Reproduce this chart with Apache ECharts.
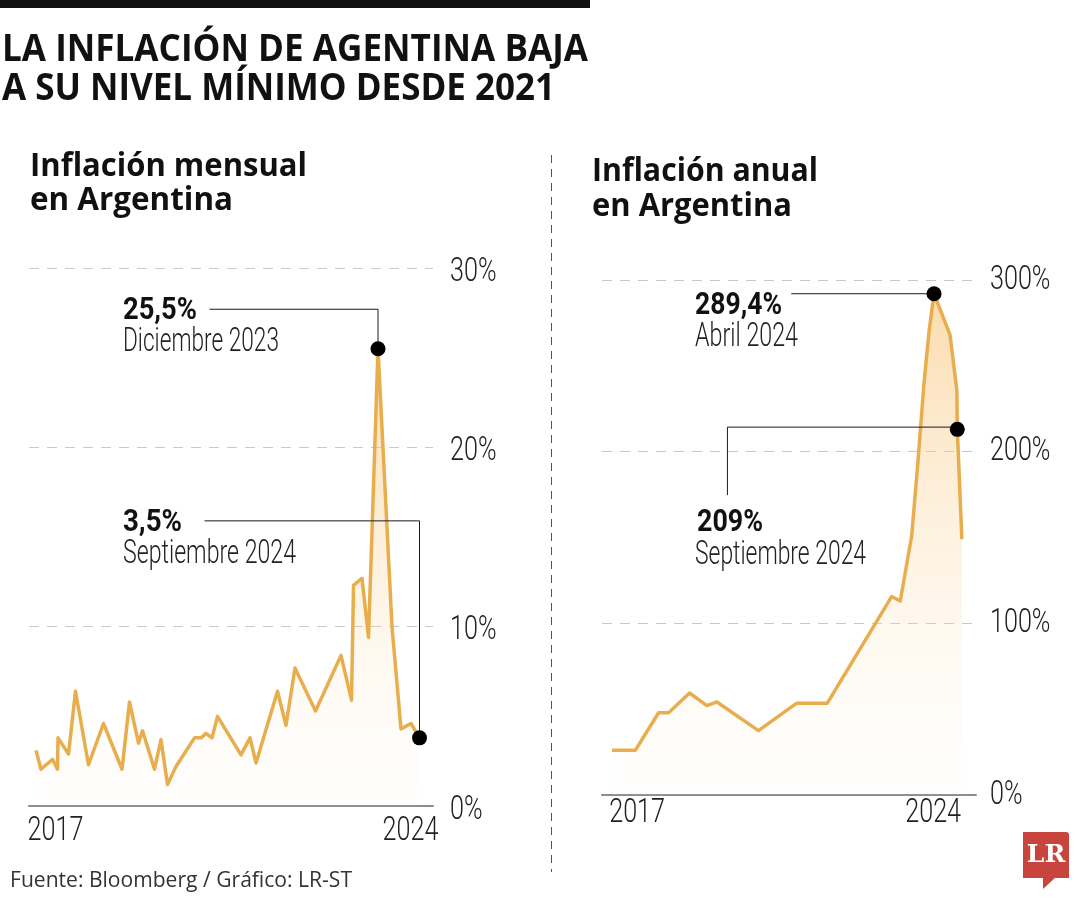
<!DOCTYPE html>
<html><head><meta charset="utf-8">
<script src="https://cdn.jsdelivr.net/npm/echarts@6/dist/echarts.min.js"></script>
<style>html,body{margin:0;padding:0;background:#fff}#c{width:1080px;height:900px}</style>
</head><body><div id="c"></div>
<script>
// ---------- DATA ----------
// Monthly inflation (x = decimal year)
const monthlyYears = [2017.00, 2017.10, 2017.33, 2017.43, 2017.44, 2017.65, 2017.79, 2018.05, 2018.35, 2018.72, 2018.87,
  2019.05, 2019.13, 2019.37, 2019.50, 2019.63, 2019.80, 2020.17, 2020.30, 2020.40, 2020.52, 2020.63,
  2021.10, 2021.28, 2021.40, 2021.83, 2022.00, 2022.18, 2022.59, 2023.10, 2023.31, 2023.35, 2023.52,
  2023.65, 2023.84, 2024.12, 2024.30, 2024.50, 2024.67];
const monthlyValues = [3.1, 2.05, 2.6, 2.05, 3.8, 2.9, 6.4, 2.3, 4.6, 2.05, 5.8,
  3.5, 4.2, 2.05, 3.7, 1.2, 2.2, 3.8, 3.8, 4.05, 3.8, 5.0,
  2.85, 3.8, 2.4, 6.4, 4.5, 7.7, 5.3, 8.4, 5.9, 12.3, 12.7,
  9.4, 25.5, 10.0, 4.3, 4.6, 3.8];
// Annual inflation
const annualYears = [2017.00, 2017.51, 2018.02, 2018.24, 2018.70, 2019.08, 2019.30, 2020.21, 2021.05, 2021.72,
  2023.13, 2023.32, 2023.57, 2023.71, 2023.84, 2023.95, 2024.06, 2024.41, 2024.56, 2024.57, 2024.67];
const annualValues = [26, 26, 47.9, 47.9, 59.4, 52.1, 54.2, 37.5, 53.5, 53.5,
  115.6, 113, 151, 195, 240, 270, 292, 268, 236, 213, 149];

// Tick labels
const monthlyYTicks = [0, 10, 20, 30];
const annualYTicks = [0, 100, 200, 300];
const xTickLabels = ['2017', '2024'];
const monthlyXLabelAt = [2017.39, 2024.49];
const annualXLabelAt = [2017.55, 2024.04];

// Highlighted points and their notes
const monthlyHighlights = [[2023.84, 25.5], [2024.67, 3.8]];
const annualHighlights = [[2024.06, 292], [2024.57, 213]];
const monthlyNotes = [['25,5%', 'Diciembre 2023'], ['3,5%', 'Septiembre 2024']];
const annualNotes = [['289,4%', 'Abril 2024'], ['209%', 'Septiembre 2024']];
// leader lines (data coordinates)
const monthlyLeaders = [
  [[2020.47, 27.7], [2023.84, 27.7], [2023.84, 25.5]],
  [[2020.37, 15.9], [2024.67, 15.9], [2024.67, 3.8]]
];
const annualLeaders = [
  [[2020.93, 292], [2024.06, 292]],
  [[2019.53, 174.7], [2019.53, 214.3], [2024.57, 214.3]]
];

// ---------- STYLE ----------
const BOLD = "'Open Sans','Noto Sans',sans-serif";
const COND = "Roboto,'Noto Sans',sans-serif";
const LINE = '#E8AE4E';
const measureCtx = document.createElement('canvas').getContext('2d');
function fitText(text, font, x, y, width, fill) {
  measureCtx.font = font;
  const w = measureCtx.measureText(text).width;
  return { type: 'text', x: x, y: y, scaleX: width / w, silent: true, z: 10,
    style: { text: text, font: font, fill: fill || '#111', align: 'left', verticalAlign: 'middle' } };
}
function scaledText(text, font, x, y, sx, align, fill) {
  return { type: 'text', x: x, y: y, scaleX: sx, silent: true, z: 10,
    style: { text: text, font: font, fill: fill || '#222', align: align, verticalAlign: 'middle' } };
}
function area() {
  return new echarts.graphic.LinearGradient(0, 0, 0, 1, [
    { offset: 0, color: 'rgba(247,186,95,0.72)' },
    { offset: 0.5, color: 'rgba(250,210,150,0.40)' },
    { offset: 1, color: 'rgba(255,246,232,0.10)' }
  ]);
}
function pairs(xs, ys) { return xs.map((x, i) => [x, ys[i]]); }

const chart = echarts.init(document.getElementById('c'), null, { renderer: 'canvas' });

function xAxis(grid, min, max) {
  return {
    type: 'value', gridIndex: grid, min: min, max: max,
    axisLine: { show: true, onZero: false, lineStyle: { color: '#8c8c8c', width: 2 } },
    axisTick: { show: false }, splitLine: { show: false }, axisLabel: { show: false }
  };
}
function yAxis(grid, ticks) {
  return {
    type: 'value', gridIndex: grid, position: 'right',
    min: ticks[0], max: ticks[ticks.length - 1], interval: ticks[1] - ticks[0],
    axisLine: { show: false }, axisTick: { show: false }, axisLabel: { show: false },
    splitLine: { show: true, lineStyle: { color: '#c8c8c8', width: 1, type: [10, 8] } }
  };
}
function leaderSeries(list, xi) {
  return list.map(d => ({
    type: 'line', xAxisIndex: xi, yAxisIndex: xi, data: d, symbol: 'none', silent: true, z: 4,
    lineStyle: { color: '#1a1a1a', width: 1 }
  }));
}

const option = {
  backgroundColor: '#fff',
  animation: false,
  grid: [
    { left: 29, top: 268, width: 404, height: 538 },
    { left: 602, top: 280, width: 374, height: 515 }
  ],
  xAxis: [xAxis(0, 2016.86, 2024.94), xAxis(1, 2016.78, 2024.98)],
  yAxis: [yAxis(0, monthlyYTicks), yAxis(1, annualYTicks)],
  series: [
    { type: 'line', xAxisIndex: 0, yAxisIndex: 0, data: pairs(monthlyYears, monthlyValues), symbol: 'none',
      lineStyle: { color: LINE, width: 3.5, join: 'round' }, areaStyle: { color: area(), origin: 'start' }, z: 2 },
    { type: 'line', xAxisIndex: 1, yAxisIndex: 1, data: pairs(annualYears, annualValues), symbol: 'none',
      lineStyle: { color: LINE, width: 3.5, join: 'round' }, areaStyle: { color: area(), origin: 'start' }, z: 2 },
    ...leaderSeries(monthlyLeaders, 0),
    ...leaderSeries(annualLeaders, 1),
    { type: 'scatter', xAxisIndex: 0, yAxisIndex: 0, data: monthlyHighlights, symbolSize: 15,
      itemStyle: { color: '#000', opacity: 1 }, z: 5, silent: true },
    { type: 'scatter', xAxisIndex: 1, yAxisIndex: 1, data: annualHighlights, symbolSize: 15,
      itemStyle: { color: '#000', opacity: 1 }, z: 5, silent: true }
  ]
};
chart.setOption(option);

// ---------- TEXT / DECORATION (positions from the library's scales) ----------
const TICKFONT = '300 34px ' + COND;
const TICKSX = 0.74;
const graphics = [
  { type: 'rect', shape: { x: 0, y: 0, width: 590, height: 8 }, style: { fill: '#111' }, silent: true },
  fitText('LA INFLACIÓN DE AGENTINA BAJA', 'bold 38px ' + BOLD, 2, 50, 586),
  fitText('A SU NIVEL MÍNIMO DESDE 2021', 'bold 38px ' + BOLD, 2, 89, 553),
  fitText('Inflación mensual', 'bold 33px ' + BOLD, 30, 167, 277),
  fitText('en Argentina', 'bold 33px ' + BOLD, 30, 201, 203),
  fitText('Inflación anual', 'bold 33px ' + BOLD, 592, 172, 226),
  fitText('en Argentina', 'bold 33px ' + BOLD, 592, 207, 200),
  // notes
  fitText(monthlyNotes[0][0], 'bold 31px ' + COND, 123, 311, 74),
  fitText(monthlyNotes[0][1], '300 33px ' + COND, 123, 343, 156, '#222'),
  fitText(monthlyNotes[1][0], 'bold 31px ' + COND, 123, 523, 59),
  fitText(monthlyNotes[1][1], '300 33px ' + COND, 123, 555, 173, '#222'),
  fitText(annualNotes[0][0], 'bold 31px ' + COND, 695, 306, 87),
  fitText(annualNotes[0][1], '300 33px ' + COND, 695, 338, 103, '#222'),
  fitText(annualNotes[1][0], 'bold 31px ' + COND, 697, 523, 66),
  fitText(annualNotes[1][1], '300 33px ' + COND, 695, 556, 171, '#222'),
  // divider
  { type: 'line', shape: { x1: 551.5, y1: 155, x2: 551.5, y2: 872 }, silent: true,
    style: { stroke: '#555', lineWidth: 1, lineDash: [8, 6] } },
  // footer
  fitText('Fuente: Bloomberg / Gráfico: LR-ST', '22px ' + BOLD, 10, 881, 342, '#333'),
  // logo
  { type: 'group', silent: true, children: [
    { type: 'rect', shape: { x: 1023, y: 832, width: 46, height: 46, r: [0, 3, 0, 0] }, style: { fill: '#C8453D' } },
    { type: 'polygon', shape: { points: [[1043, 877], [1056, 877], [1043, 889]] }, style: { fill: '#C8453D' } },
    { type: 'text', x: 1046, y: 855, style: { text: 'LR', font: 'bold 25px "DejaVu Serif","Liberation Serif",serif',
      fill: '#fff', align: 'center', verticalAlign: 'middle' } }
  ] }
];

// axis tick labels placed through the axes' own scales
function yLabels(gi, ticks, xLeft, dy) {
  ticks.forEach(v => {
    const p = chart.convertToPixel({ gridIndex: gi }, [0, v]);
    graphics.push(scaledText(v + '%', TICKFONT, xLeft, p[1] + dy, TICKSX, 'left'));
  });
}
function xLabels(gi, at, yPix) {
  at.forEach((v, i) => {
    const p = chart.convertToPixel({ gridIndex: gi }, [v, 0]);
    graphics.push(scaledText(xTickLabels[i], TICKFONT, p[0], p[1] + yPix, TICKSX, 'center'));
  });
}
yLabels(0, monthlyYTicks, 450, 4);
yLabels(1, annualYTicks, 990, 0);
xLabels(0, monthlyXLabelAt, 25);
xLabels(1, annualXLabelAt, 18);

chart.setOption({ graphic: graphics });
</script>
</body></html>
